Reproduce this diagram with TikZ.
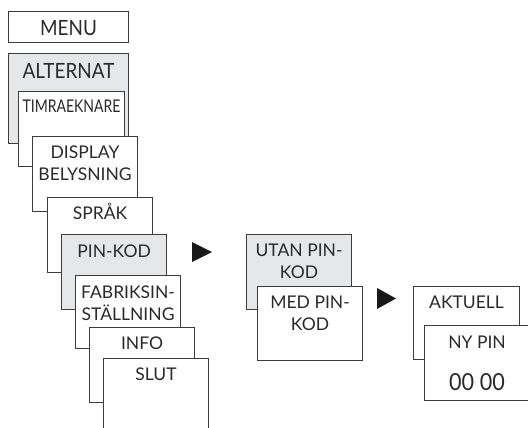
\documentclass[tikz,border=0pt]{standalone}
\usepackage{fontspec}
\setmainfont{Lato}
\usepackage{graphicx}
\usetikzlibrary{positioning}
\definecolor{linegray}{HTML}{3C3C3C}
\definecolor{selgray}{HTML}{E6E7E8}
\definecolor{txtgray}{HTML}{2A2A2A}
\tikzset{
  menubox/.style={draw=linegray, line width=1.1pt, fill=white, anchor=north west,
    minimum width=105pt, minimum height=75pt, inner sep=0pt},
  selbox/.style={menubox, fill=selgray},
  boxtext/.style={anchor=base, align=center, inner sep=0pt, text=txtgray,
    font=\fontsize{17.5}{22}\selectfont},
  bigtext/.style={boxtext, font=\fontsize{21}{25}\selectfont},
  pointer/.style={fill=black!90}
}

\begin{document}
\begin{tikzpicture}[x=1pt, y=-1pt]
\useasboundingbox (0,0) rectangle (528,428);
\clip (0,0) rectangle (528,428);
% ---- main menu column ----
\node[menubox, minimum width=120pt, minimum height=31pt] (menu) at (8,11) {};
\node[bigtext, below=25pt of menu.north, anchor=base] (menutxt) {\scalebox{0.9}[1]{MENU}};
\node[selbox, minimum width=120pt, minimum height=90pt] (altern) at (8,53) {};
\node[bigtext, below=25pt of altern.north, anchor=base] (alterntxt) {\scalebox{0.9}[1]{ALTERNAT}};
\node[menubox, minimum width=106pt] (timer) at (18,91) {};
\node[boxtext, below=22pt of timer.north, anchor=base] (timertxt) {\scalebox{0.8}[1]{TIMRAEKNARE}};
\node[menubox] (display) at (32,136) {};
\node[boxtext, below=44pt of display.north, anchor=base] (displaytxt) {DISPLAY\\BELYSNING};
\node[menubox] (lang) at (47,197) {};
\node[boxtext, below=22pt of lang.north, anchor=base] (langtxt) {SPRÅK};
\node[selbox] (pin) at (61,234) {};
\node[boxtext, below=23pt of pin.north, anchor=base] (pintxt) {PIN-KOD};
\node[menubox, minimum height=73pt] (factory) at (75,275) {};
\node[boxtext, below=45pt of factory.north, anchor=base] (factorytxt) {FABRIKSIN-\\STÄLLNING};
\node[menubox] (info) at (89,327) {};
\node[boxtext, below=22pt of info.north, anchor=base] (infotxt) {INFO};
\node[menubox] (finish) at (103,358) {};
\node[boxtext, below=22pt of finish.north, anchor=base] (finishtxt) {SLUT};
% ---- pin code choice ----
\fill[pointer] (192,242) -- (212,252) -- (192,262) -- cycle;
\node[selbox] (nopin) at (246,234) {};
\node[boxtext, below=44pt of nopin.north, anchor=base] (nopintxt) {UTAN PIN-\\KOD};
\node[menubox, minimum height=74pt] (withpin) at (257,286) {};
\node[boxtext, below=44pt of withpin.north, anchor=base] (withpintxt) {MED PIN-\\KOD};
% ---- new pin entry ----
\fill[pointer] (377,288) -- (396,298.5) -- (377,309) -- cycle;
\node[menubox, minimum width=106pt, minimum height=73pt] (current) at (413,286) {};
\node[boxtext, below=22pt of current.north, anchor=base] (currenttxt) {AKTUELL};
\node[menubox] (newpin) at (424,325) {};
\node[boxtext, below=23pt of newpin.north, anchor=base] (newpintxt) {NY PIN};
\node[boxtext, font=\fontsize{23.5}{28}\selectfont, below=65pt of newpin.north, anchor=base] (digits) {\scalebox{0.92}[1]{00 00}};
\end{tikzpicture}
\end{document}
